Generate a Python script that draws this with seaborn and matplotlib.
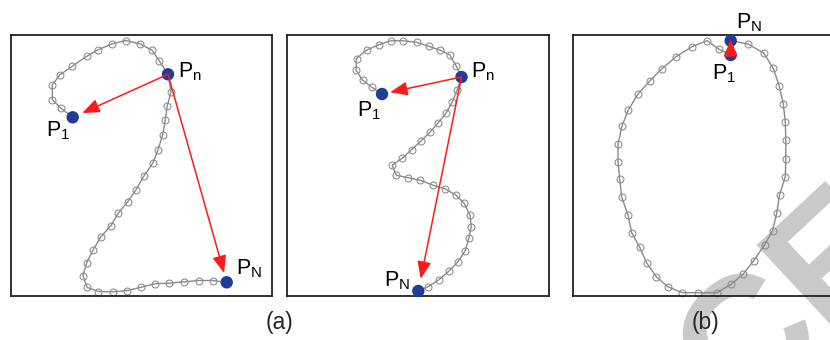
import matplotlib
matplotlib.use("Agg")
import matplotlib.pyplot as plt
import seaborn as sns
import numpy as np

sns.set_theme(style="white")
plt.rcParams['font.family'] = ['Liberation Sans', 'DejaVu Sans']
plt.rcParams['mathtext.fontset'] = 'custom'
plt.rcParams['mathtext.rm'] = 'Liberation Sans'
plt.rcParams['mathtext.it'] = 'Liberation Sans'

# ---------------- data (pixel-space coordinates) ----------------
a_x = [72.7, 60.7, 52.3, 52.3, 60.0, 72.3, 86.7, 98.3, 111.7, 125.7, 140.3, 152.0, 159.2,
       168.0, 171.0, 167.3, 165.2, 162.7, 158.0, 152.8, 143.7, 136.0, 127.8, 118.3, 111.0,
       100.7, 93.0, 86.7, 83.0, 87.0, 98.3, 113.3, 127.2, 141.0, 155.0, 169.3, 183.8, 199.2,
       212.7, 226.7]
a_y = [117.3, 108.0, 99.7, 84.7, 74.7, 66.3, 56.3, 49.7, 44.0, 40.5, 44.0, 50.2, 60.7,
       74.3, 92.0, 105.5, 120.2, 134.8, 149.8, 163.2, 176.2, 189.8, 201.5, 213.2, 225.5,
       237.0, 250.2, 262.7, 275.5, 287.3, 291.5, 291.8, 290.5, 287.3, 283.7, 283.2, 281.8,
       280.5, 280.5, 282.3]
a_n = 13

b_x = [382.0, 371.5, 362.5, 356.0, 356.5, 366.7, 378.7, 390.5, 402.5, 416.5, 428.7, 440.3,
       449.7, 456.3, 461.5, 457.0, 452.2, 446.0, 438.3, 430.3, 421.0, 411.8, 402.2, 392.2,
       396.3, 408.3, 420.3, 433.3, 444.7, 455.5, 464.2, 470.0, 471.2, 469.0, 465.2, 457.8,
       448.8, 438.8, 428.0, 418.3]
b_y = [94.0, 87.0, 80.0, 70.0, 58.5, 50.0, 44.8, 40.8, 40.7, 42.3, 46.3, 50.2, 54.8, 66.2,
       77.0, 90.2, 102.2, 113.2, 122.8, 131.8, 141.0, 149.5, 158.2, 165.3, 175.3, 177.8,
       180.2, 185.3, 188.7, 194.8, 203.2, 215.3, 226.5, 237.7, 250.7, 262.0, 271.2, 279.8,
       286.8, 291.0]
b_n = 14

c_x = [730.7, 718.7, 707.0, 692.0, 676.0, 661.7, 650.0, 637.8, 628.3, 622.0, 618.0, 618.0,
       619.7, 621.7, 628.0, 631.7, 639.7, 646.7, 656.3, 667.7, 682.3, 698.3, 717.0, 731.0,
       743.0, 753.8, 764.5, 772.5, 776.7, 779.5, 785.3, 785.8, 785.8, 785.3, 783.3, 779.2,
       773.3, 763.7, 748.0, 730.7]
c_y = [55.0, 49.0, 40.7, 46.7, 56.7, 69.0, 80.7, 94.3, 110.0, 126.0, 144.0, 161.7, 179.3,
       197.3, 215.0, 232.7, 247.3, 263.0, 276.7, 286.7, 292.7, 292.7, 292.7, 284.3, 274.3,
       260.5, 245.0, 230.7, 213.3, 195.0, 176.7, 159.0, 140.0, 122.3, 104.0, 86.0, 68.3,
       53.0, 44.0, 40.7]

panel_labels = ["(a)", "(b)"]

# ---------------- styles ----------------
W, H = 830, 340
GRAY = "#8a8a8a"
BLUE = "#1f3c98"
RED = "#ff1a1a"

fig = plt.figure(figsize=(W / 100, H / 100), dpi=100)
fig.patch.set_facecolor("white")

# watermark (behind everything)
fig.text(795 / W, 1 - 305 / H, "CE", fontsize=125, color="#c9c9c9", rotation=43,
         ha="center", va="center", zorder=-5, family="Liberation Sans", fontweight="bold")


def make_ax(left, right, top, bottom):
    ax = fig.add_axes([left / W, 1 - bottom / H, (right - left) / W, (bottom - top) / H])
    ax.set_xlim(left, right)
    ax.set_ylim(bottom, top)
    ax.set_xticks([])
    ax.set_yticks([])
    ax.patch.set_alpha(0)
    for s in ax.spines.values():
        s.set_color("#222222")
        s.set_linewidth(1.3)
        s.set_visible(True)
    return ax


def draw_curve(ax, xs, ys):
    sns.lineplot(x=xs, y=ys, sort=False, estimator=None, ax=ax, color=GRAY, lw=1.0,
                 marker="o", markersize=5.0, markerfacecolor="none",
                 markeredgecolor=GRAY, markeredgewidth=0.75, zorder=2, clip_on=False)


def dots(ax, xs, ys):
    sns.scatterplot(x=xs, y=ys, ax=ax, s=80, color=BLUE, edgecolor="none", zorder=4,
                    clip_on=False, legend=False)


def arrow(ax, p0, p1, shrink):
    ax.annotate("", xy=p1, xytext=p0,
                arrowprops=dict(arrowstyle="-|>,head_length=0.75,head_width=0.3",
                                color=RED, lw=1.1, shrinkA=0, shrinkB=shrink,
                                mutation_scale=14), zorder=5, annotation_clip=False)


def label(ax, x, y, main, sub):
    ax.text(x, y, main + r"$_{\mathrm{" + sub + "}}$", fontsize=15.5, ha="left",
            va="baseline", color="black", zorder=6, clip_on=False)


# ---- panel 1 ----
ax1 = make_ax(11, 272, 35, 296)
draw_curve(ax1, a_x, a_y)
dots(ax1, [a_x[0], a_x[a_n], a_x[-1]], [a_y[0], a_y[a_n], a_y[-1]])
arrow(ax1, (a_x[a_n], a_y[a_n]), (a_x[0], a_y[0]), 7.5)
arrow(ax1, (a_x[a_n], a_y[a_n]), (a_x[-1], a_y[-1]), 7.0)
label(ax1, 178.0, 77.7, "P", "n")
label(ax1, 45.5, 136.5, "P", "1")
label(ax1, 236.2, 274.3, "P", "N")

# ---- panel 2 ----
ax2 = make_ax(286.5, 548.5, 35, 296)
draw_curve(ax2, b_x, b_y)
dots(ax2, [b_x[0], b_x[b_n], b_x[-1]], [b_y[0], b_y[b_n], b_y[-1]])
arrow(ax2, (b_x[b_n], b_y[b_n]), (b_x[0], b_y[0]), 6.0)
arrow(ax2, (b_x[b_n], b_y[b_n]), (b_x[-1], b_y[-1]), 9.0)
label(ax2, 471.2, 77.7, "P", "n")
label(ax2, 356.8, 116.7, "P", "1")
label(ax2, 383.5, 286.7, "P", "N")

# ---- panel 3 (extends past the right edge) ----
ax3 = make_ax(572.5, 834.5, 35, 296)
draw_curve(ax3, c_x, c_y)
dots(ax3, [c_x[0], c_x[-1]], [c_y[0], c_y[-1]])
arrow(ax3, (c_x[0], c_y[0] + 1.5), (c_x[-1], c_y[-1] - 1.5), 0)
label(ax3, 736.2, 28.3, "P", "N")
label(ax3, 712.2, 79, "P", "1")

# ---- sub-figure captions ----
fig.text(279.6 / W, 1 - 323 / H, panel_labels[0], fontsize=16.5, ha="center", va="center")
fig.text(705.5 / W, 1 - 323 / H, panel_labels[1], fontsize=16.5, ha="center", va="center")

fig.savefig("out.png", dpi=100, facecolor="white")
